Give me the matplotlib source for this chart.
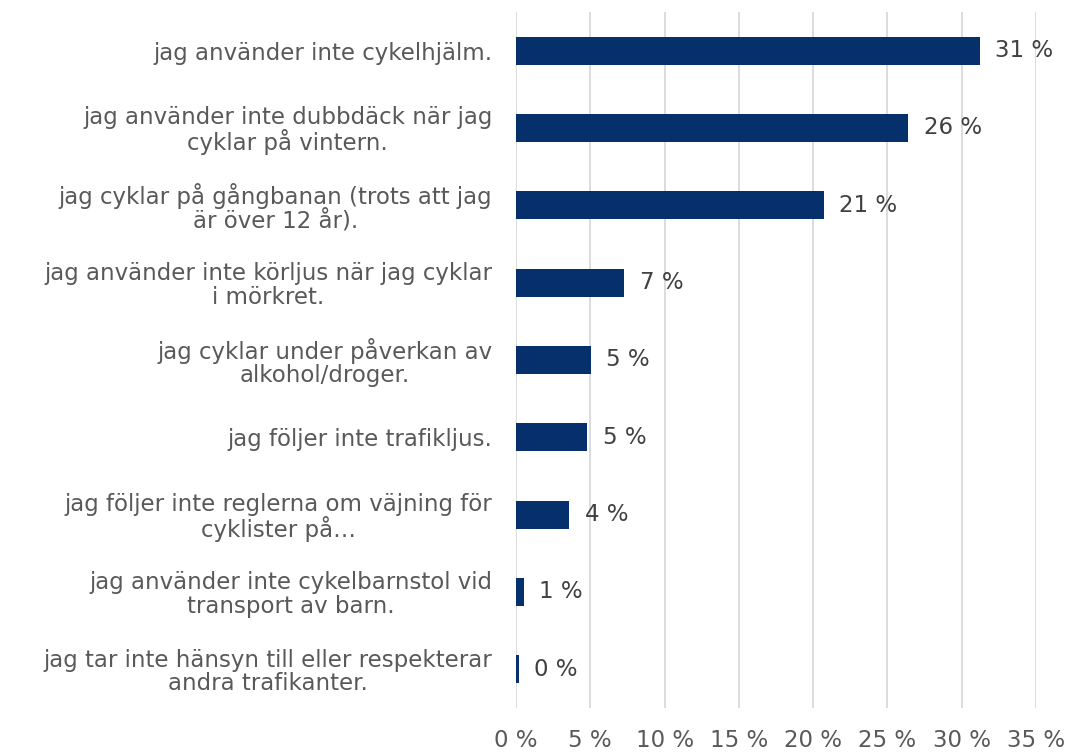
import numpy as np
import matplotlib.pyplot as plt

categories = [
    'jag använder inte cykelhjälm.',
    'jag använder inte dubbdäck när jag\ncyklar på vintern.',
    'jag cyklar på gångbanan (trots att jag\när över 12 år).',
    'jag använder inte körljus när jag cyklar\ni mörkret.',
    'jag cyklar under påverkan av\nalkohol/droger.',
    'jag följer inte trafikljus.',
    'jag följer inte reglerna om väjning för\ncyklister på…',
    'jag använder inte cykelbarnstol vid\ntransport av barn.',
    'jag tar inte hänsyn till eller respekterar\nandra trafikanter.',
]
values = [31.2, 26.4, 20.7, 7.3, 5.05, 4.8, 3.6, 0.55, 0.2]
xticks = [0, 5, 10, 15, 20, 25, 30, 35]

bar_color = '#06306b'
grid_color = '#d9d9d9'
fs = 16.5

plt.rcParams['font.family'] = ['DejaVu Sans']

fig = plt.figure(figsize=(10.69, 7.52), dpi=100)
ax = fig.add_axes([516/1069, 44/752, 520/1069, 696/752])

y = np.arange(len(categories))
ax.barh(y, values, height=0.36, color=bar_color, zorder=3)
for yi, v in zip(y, values):
    ax.annotate(f'{round(v)} %', (v, yi), xytext=(11, 0), textcoords='offset points',
                va='center', ha='left', fontsize=fs, color='#404040')

ax.set_ylim(len(categories) - 0.5, -0.5)
ax.set_xlim(0, 35)
ax.set_yticks(y)
ax.set_yticklabels(categories, multialignment='center', fontsize=fs,
                   color='#595959', linespacing=1.02)
ax.set_xticks(xticks)
ax.set_xticklabels([f'{t} %' for t in xticks], fontsize=fs, color='#595959')
ax.tick_params(axis='y', length=0, pad=17)
ax.tick_params(axis='x', length=0, pad=15)
ax.grid(axis='x', color=grid_color, linewidth=1.3, zorder=0)
for s in ax.spines.values():
    s.set_visible(False)

fig.savefig('out.png', dpi=100)
